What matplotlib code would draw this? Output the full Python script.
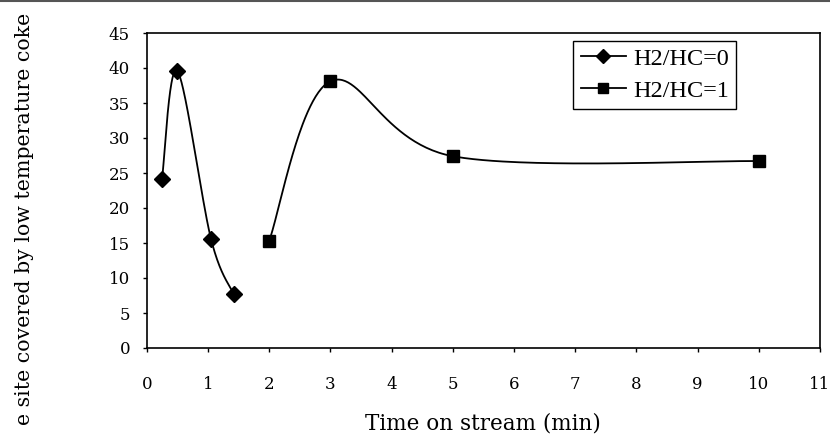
import numpy as np
import matplotlib
matplotlib.use("Agg")
import matplotlib.pyplot as plt
from matplotlib.lines import Line2D

# Data
t_h0 = [0.25, 0.5, 1.05, 1.42]
v_h0 = [24.1, 39.6, 15.6, 7.7]
t_h1 = [2, 3, 5, 10]
v_h1 = [15.3, 38.1, 27.4, 26.7]
labels = ["H2/HC=0", "H2/HC=1"]
xticks = list(range(0, 12))
yticks = list(range(0, 50, 5))

def smooth(xs, ys, n=60):
    x = np.asarray(xs, float); y = np.asarray(ys, float)
    P = np.column_stack([x, y])
    P = np.vstack([P[0], P, P[-1]])
    out = []
    t = np.linspace(0, 1, n)[:, None]
    for i in range(1, len(P) - 2):
        p0, p3 = P[i], P[i + 1]
        c1 = p0 + (P[i + 1] - P[i - 1]) / 6.0
        c2 = p3 - (P[i + 2] - P[i]) / 6.0
        seg = ((1 - t) ** 3) * p0 + 3 * ((1 - t) ** 2) * t * c1 + 3 * (1 - t) * t ** 2 * c2 + t ** 3 * p3
        out.append(seg)
    s = np.vstack(out)
    return s[:, 0], s[:, 1]

plt.rcParams['font.family'] = ['DejaVu Serif']

fig = plt.figure(figsize=(8.3, 4.37), dpi=100)
ax = fig.add_axes([146.7/830, 1-348/437, (820-146.7)/830, (348-33)/437])

for xs, ys, mk, ms in [(t_h0, v_h0, 'D', 8), (t_h1, v_h1, 's', 8)]:
    sx, sy = smooth(xs, ys)
    ax.plot(sx, sy, color='black', lw=1.3)
    ax.plot(xs, ys, linestyle='none', marker=mk, ms=ms, color='black')

handles = [Line2D([], [], color='black', lw=1.3, marker='D', ms=7),
           Line2D([], [], color='black', lw=1.3, marker='s', ms=7)]
leg = ax.legend(handles, labels, loc='upper right', bbox_to_anchor=(736/830, 1-40.5/437),
                bbox_transform=fig.transFigure, frameon=True, fancybox=False,
                prop={'family': 'Liberation Serif', 'size': 17.5},
                edgecolor='black', framealpha=1, handlelength=1.85, handletextpad=0.3,
                borderpad=0.3, labelspacing=0.4, borderaxespad=0)
leg.get_frame().set_linewidth(1.0)

ax.set_xlim(0, 11)
ax.set_ylim(0, 45)
ax.set_xticks(xticks)
ax.set_yticks(yticks)
ax.tick_params(direction='out', length=3, width=1, labelsize=12)
ax.tick_params(axis='x', pad=17)
ax.tick_params(axis='y', pad=9)
for sp in ax.spines.values():
    sp.set_linewidth(1.2)

ax.set_xlabel("Time on stream (min)", fontsize=15.5, labelpad=14)
fig.text(25/830, 1-13/437, "e site covered by low temperature coke", rotation=90,
         fontsize=14.8, ha='center', va='top')

fig.add_artist(Line2D([0, 1], [0.997, 0.997], transform=fig.transFigure, color='#555555', lw=1.5))

fig.savefig("out.png", dpi=100)
